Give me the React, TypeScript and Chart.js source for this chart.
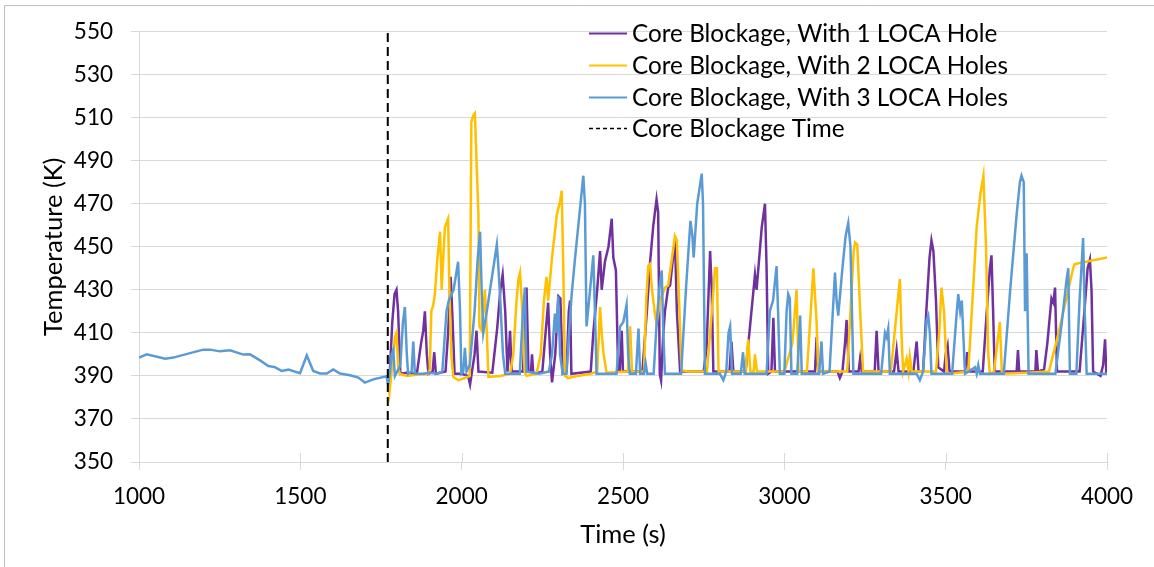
import React, { useEffect, useRef } from "react";
import { Chart, registerables } from "chart.js";

Chart.register(...registerables);

const seriesNames = [
  "Core Blockage, With 1 LOCA Hole",
  "Core Blockage, With 2 LOCA Holes",
  "Core Blockage, With 3 LOCA Holes",
  "Core Blockage Time",
];
const seriesColors = ["#7030A0", "#FFC000", "#5B9BD5", "#000000"];

const xTicks = [1000, 1500, 2000, 2500, 3000, 3500, 4000];
const yMin = 350;
const yMax = 550;
const yStep = 20;

const blockageTime = 1771;

// [time (s), temperature (K)]
const oneHole: [number, number][] = [
  [1770,389.5],[1775,385],[1785,415],[1792,428],[1798,430],[1803,420],[1810,391],[1830,391.5],[1850,391],[1862,392],[1874,405],[1881,411],[1886,420],[1892,400],[1897,391],[1910,392],[1915,401],[1920,391],[1950,392],[1958,410],[1966,436],[1972,415],[1978,391],[2000,391],[2020,390],[2026,386],[2032,392],[2040,400],[2046,411],[2052,392],[2095,391.5],[2110,412],[2120,430],[2127,437],[2135,420],[2142,392],[2146,400],[2150,411],[2155,392],[2190,392],[2196,415],[2201,431],[2207,392],[2215,392],[2218,400],[2222,391],[2250,392],[2260,410],[2268,424],[2274,400],[2280,387],[2290,400],[2300,427],[2306,426],[2313,391],[2325,392],[2332,420],[2336,425],[2340,391],[2400,392],[2408,410],[2420,430],[2429,448],[2434,430],[2444,443],[2455,450],[2465,463],[2470,445],[2478,439],[2485,392],[2490,392],[2496,411],[2500,392],[2560,392],[2574,420],[2584,443],[2594,460],[2604,472],[2609,466],[2614,391],[2618,388],[2625,410],[2630,420],[2640,431],[2646,432],[2655,445],[2661,453],[2667,420],[2677,392],[2750,392],[2759,403],[2770,448],[2775,430],[2780,392],[2830,392],[2836,406],[2842,392],[2880,392],[2893,412],[2909,437],[2914,430],[2930,459],[2940,470],[2945,440],[2950,391],[2960,392],[2966,417],[2971,392],[3095,392],[3100,408],[3105,392],[3165,392],[3172,389],[3180,392],[3188,405],[3193,416],[3200,392],[3230,392],[3235,398],[3240,392],[3280,392],[3286,411],[3292,392],[3340,392],[3348,402],[3354,392],[3400,392],[3410,406],[3416,392],[3430,392],[3440,420],[3450,445],[3456,453],[3462,448],[3470,425],[3477,394],[3495,392],[3500,400],[3506,404],[3512,392],[3560,392],[3567,401],[3572,392],[3615,392],[3627,419],[3637,440],[3642,446],[3647,420],[3652,392],[3720,392],[3724,402],[3728,392],[3778,392],[3781,402],[3786,392],[3805,393],[3815,405],[3828,426],[3834,424],[3839,431],[3845,392],[3915,392],[3930,420],[3940,440],[3947,444],[3952,430],[3957,392],[3980,390],[3988,395],[3994,407],[3998,391],[4000,391],
];

const twoHoles: [number, number][] = [
  [1770,389],[1776,382],[1785,395],[1793,408],[1798,410],[1803,395],[1808,391],[1830,390],[1860,390.5],[1895,391],[1901,393],[1906,420],[1912,423],[1917,428],[1925,445],[1933,457],[1938,430],[1943,445],[1948,459],[1958,463],[1962,430],[1968,400],[1974,389.5],[1990,388],[2010,389],[2025,390],[2030,508],[2036,511],[2041,512],[2046,490],[2052,465],[2055,413],[2062,411],[2067,420],[2072,430],[2078,410],[2083,389.5],[2120,390],[2150,391],[2160,400],[2170,425],[2176,435],[2181,438],[2188,420],[2195,392],[2201,390],[2232,391],[2245,400],[2255,425],[2263,436],[2268,425],[2280,445],[2295,465],[2305,471],[2310,476],[2315,440],[2320,390],[2330,389],[2360,390],[2400,391],[2420,392],[2429,422],[2434,410],[2439,401],[2449,391.5],[2515,392],[2522,413],[2528,392],[2565,392],[2572,425],[2578,441],[2584,442],[2590,430],[2598,420],[2604,414],[2615,425],[2630,431],[2640,432],[2652,445],[2661,455],[2667,453],[2675,420],[2681,392.6],[2700,392],[2760,392],[2770,410],[2778,425],[2785,440],[2791,440],[2796,392],[2840,392],[2880,392],[2888,407],[2895,392],[2905,392],[2909,400],[2915,392],[3000,392],[3025,405],[3038,430],[3044,392],[3070,392],[3082,420],[3090,440],[3100,415],[3105,392],[3195,392],[3205,420],[3215,448],[3219,452],[3226,451],[3235,420],[3244,392],[3330,392],[3345,415],[3358,435],[3363,410],[3368,392],[3379,398],[3385,392],[3389,399],[3395,392],[3470,392],[3480,410],[3487,431],[3495,420],[3503,392],[3513,391],[3570,392],[3585,430],[3596,459],[3608,475],[3617,483],[3625,450],[3632,400],[3637,391],[3650,392],[3660,405],[3668,415],[3674,392],[3678,391],[3750,391.5],[3820,392],[3850,410],[3880,430],[3895,440],[3900,442],[3950,443.5],[4000,445],
];

const threeHoles: [number, number][] = [
  [1000,398.5],[1024,400],[1081,398],[1106,398.5],[1199,402.2],[1220,402.2],[1251,401.4],[1282,401.9],[1323,399.9],[1344,400],[1375,397.2],[1401,394.6],[1421,394.1],[1442,392.3],[1463,392.9],[1499,391.2],[1520,399.5],[1540,392.3],[1561,391.1],[1582,391.1],[1602,393],[1623,391.1],[1654,390.3],[1680,389.2],[1700,386.9],[1726,388.4],[1767,389.8],
  [1772,386],[1778,392],[1783,400],[1788,402],[1793,390],[1800,392],[1810,395],[1818,415],[1824,422],[1830,400],[1834,391],[1845,392],[1850,406],[1855,391],[1880,391],[1900,391.5],[1925,391],[1940,392],[1953,420],[1960,425],[1975,430],[1989,443],[1995,420],[1999,391],[2005,392],[2010,403],[2015,392],[2025,395],[2040,420],[2050,445],[2057,457],[2062,430],[2067,410],[2078,420],[2088,430],[2098,440],[2109,451],[2114,440],[2119,427],[2128,400],[2135,391],[2180,391],[2190,420],[2196,431],[2201,392],[2240,391],[2270,392],[2280,400],[2289,419],[2294,410],[2299,427],[2305,400],[2313,391],[2325,391],[2335,415],[2341,428],[2351,444],[2365,465],[2377,483],[2382,470],[2387,413],[2398,430],[2408,446],[2413,420],[2418,391],[2480,391],[2491,413],[2501,415],[2511,423],[2516,400],[2521,391],[2540,391],[2548,412],[2553,391],[2565,391],[2570,396],[2575,391],[2595,391],[2604,414],[2612,430],[2620,439],[2625,410],[2630,391],[2680,391],[2695,430],[2709,462],[2715,455],[2719,445],[2730,470],[2744,484],[2748,470],[2754,391],[2800,391],[2811,388],[2820,392],[2827,410],[2832,413],[2838,391],[2865,391],[2872,401],[2877,391],[2945,391],[2955,420],[2965,425],[2976,441],[2981,418],[2986,391],[3000,391],[3007,420],[3012,428],[3017,426],[3022,391],[3040,391],[3049,418],[3054,391],[3108,391],[3115,406],[3120,391],[3140,392],[3157,438],[3162,425],[3167,418],[3180,440],[3190,455],[3198,461],[3205,450],[3214,391],[3300,391],[3312,410],[3317,408],[3322,412],[3327,391],[3410,391],[3420,388],[3430,392],[3441,416],[3446,418],[3451,410],[3456,391],[3520,391],[3532,415],[3539,428],[3545,420],[3550,425],[3560,391],[3591,394],[3596,391],[3601,395],[3606,391],[3680,391],[3700,430],[3720,465],[3730,480],[3735,483],[3742,480],[3746,420],[3751,447],[3757,391],[3840,391],[3860,415],[3875,435],[3880,440],[3885,391],[3905,391],[3915,425],[3926,454],[3931,420],[3937,391],[4000,391],
];

const FONT = "Lato";
const TICK_SIZE = 22.5;
const TITLE_SIZE = 25.5;
const LEGEND_SIZE = 24.3;

const toXY = (arr: [number, number][]) => arr.map(([x, y]) => ({ x, y }));

const decorPlugin = {
  id: "decor",
  afterDraw(chart: any) {
    const ctx = chart.ctx;
    const xs = chart.scales.x;
    const area = chart.chartArea;
    ctx.save();
    // outer frame
    ctx.strokeStyle = "#bfbfbf";
    ctx.lineWidth = 1;
    ctx.beginPath();
    ctx.moveTo(4.5, chart.height);
    ctx.lineTo(4.5, 5.5);
    ctx.lineTo(chart.width, 5.5);
    ctx.stroke();
    // x tick marks crossing the axis upward
    ctx.strokeStyle = "#d9d9d9";
    xTicks.forEach((v) => {
      const px = Math.round(xs.getPixelForValue(v)) + 0.5;
      ctx.beginPath();
      ctx.moveTo(px, area.bottom - 9);
      ctx.lineTo(px, area.bottom);
      ctx.stroke();
    });
    // legend
    const lx0 = 589;
    const lx1 = 627;
    const tx = 632;
    const rows = [33, 65, 97, 128];
    ctx.font = `${LEGEND_SIZE}px ${FONT}`;
    ctx.textBaseline = "middle";
    ctx.textAlign = "left";
    chart.data.datasets.forEach((ds: any, i: number) => {
      const y = rows[i];
      ctx.strokeStyle = ds.borderColor;
      ctx.lineWidth = i === 3 ? 1.5 : 2;
      ctx.setLineDash(i === 3 ? [4, 3] : []);
      ctx.beginPath();
      ctx.moveTo(lx0, y + 0.5);
      ctx.lineTo(lx1, y + 0.5);
      ctx.stroke();
      ctx.setLineDash([]);
      ctx.fillStyle = "#000";
      ctx.fillText(ds.label, tx, y + 1);
    });
    ctx.restore();
  },
};

export default function App() {
  const ref = useRef<HTMLCanvasElement | null>(null);
  useEffect(() => {
    if (!ref.current) return;
    const chart = new Chart(ref.current, {
      type: "line",
      data: {
        datasets: [
          { label: seriesNames[0], data: toXY(oneHole), borderColor: seriesColors[0], borderWidth: 2.5, pointRadius: 0, order: 3 },
          { label: seriesNames[1], data: toXY(twoHoles), borderColor: seriesColors[1], borderWidth: 2.5, pointRadius: 0, order: 2 },
          { label: seriesNames[2], data: toXY(threeHoles), borderColor: seriesColors[2], borderWidth: 2.5, pointRadius: 0, order: 1 },
          {
            label: seriesNames[3],
            data: [{ x: blockageTime, y: yMin }, { x: blockageTime, y: yMax }],
            borderColor: seriesColors[3],
            borderWidth: 2,
            borderDash: [9, 5],
            pointRadius: 0,
            order: 0,
          },
        ],
      },
      options: {
        animation: false,
        responsive: false,
        devicePixelRatio: 1,
        parsing: false as any,
        layout: { padding: { top: 30, right: 47, left: 0, bottom: 0 } },
        plugins: { legend: { display: false }, tooltip: { enabled: false } },
        scales: {
          x: {
            type: "linear",
            min: 1000,
            max: 4000,
            afterFit: (s: any) => { s.height = 105; },
            afterBuildTicks: (s: any) => { s.ticks = xTicks.map((v) => ({ value: v })); },
            grid: { drawOnChartArea: false, drawTicks: true, tickLength: 8, color: "#d9d9d9" },
            border: { color: "#d9d9d9" },
            ticks: {
              color: "#000",
              font: { family: FONT, size: TICK_SIZE },
              padding: 13,
              maxRotation: 0,
              callback: (v: any) => String(v),
            },
            title: { display: true, text: "Time (s)", color: "#000", font: { family: FONT, size: TITLE_SIZE }, padding: { top: 0, bottom: 17 } },
          },
          y: {
            type: "linear",
            min: yMin,
            max: yMax,
            afterFit: (s: any) => { s.width = 139; },
            ticks: { stepSize: yStep, color: "#000", font: { family: FONT, size: TICK_SIZE }, padding: 18, callback: (v: any) => String(v) },
            grid: { color: "#d9d9d9", tickLength: 8 },
            border: { color: "#d9d9d9" },
            title: { display: true, text: "Temperature (K)", color: "#000", font: { family: FONT, size: TITLE_SIZE }, padding: { top: 38, bottom: 0 } },
          },
        },
      },
      plugins: [decorPlugin],
    });
    return () => chart.destroy();
  }, []);
  return (
    <div style={{ position: "fixed", left: 0, top: 0, width: 1154, height: 567, background: "#fff" }}>
      <canvas ref={ref} width={1154} height={567} style={{ width: 1154, height: 567, display: "block" }} />
    </div>
  );
}
